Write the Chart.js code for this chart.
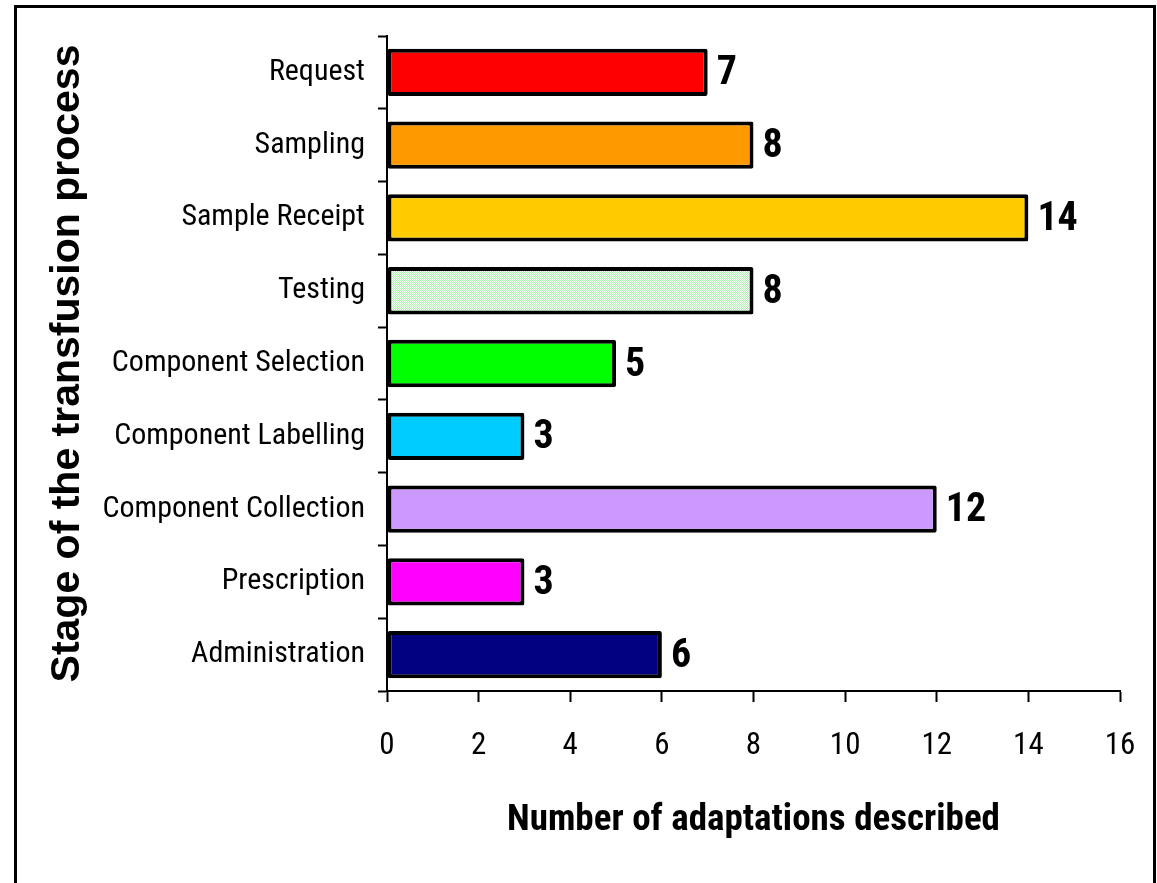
<!DOCTYPE html>
<html>
<head>
<meta charset="utf-8">
<script src="https://cdn.jsdelivr.net/npm/chart.js@4/dist/chart.umd.min.js"></script>
<style>
	html, body { margin: 0; padding: 0; background: #fff; }
	#wrap { position: relative; width: 1157px; height: 883px; }
</style>
</head>
<body>
<div id="wrap"><canvas id="stageChart"></canvas></div>
<script>
// stages of the transfusion process, top to bottom
var stages = ['Request', 'Sampling', 'Sample Receipt', 'Testing', 'Component Selection',
	'Component Labelling', 'Component Collection', 'Prescription', 'Administration'];
// number of adaptations described per stage
var adaptations = [7, 8, 14, 8, 5, 3, 12, 3, 6];
// x axis range
var xMin = 0, xMax = 16, xStep = 2;

// narrow sans: Roboto in its condensed width
var narrow = '"Roboto Condensed", Roboto, sans-serif';

// light green dotted fill for the Testing bar
function dotPattern() {
	var c = document.createElement('canvas');
	c.width = 2; c.height = 2;
	var g = c.getContext('2d');
	g.fillStyle = '#ffffff';
	g.fillRect(0, 0, 2, 2);
	g.fillStyle = '#b4f0b4';
	g.fillRect(0, 0, 1, 1);
	g.fillRect(1, 1, 1, 1);
	return g.createPattern(c, 'repeat');
}

var fills = ['#ff0000', '#ff9900', '#ffcc00', dotPattern(), '#00ff00',
	'#00ccff', '#cc99ff', '#ff00ff', '#000080'];

// outer frame round the picture
var framePlugin = {
	id: 'frame',
	afterDraw: function (chart) {
		var c = chart.ctx;
		c.save();
		c.strokeStyle = '#000';
		c.lineWidth = 3;
		c.beginPath();
		c.moveTo(15.5, 900);
		c.lineTo(15.5, 6.5);
		c.lineTo(1154.5, 6.5);
		c.lineTo(1154.5, 900);
		c.stroke();
		c.restore();
	}
};

// value next to the end of each bar
var valuePlugin = {
	id: 'values',
	afterDatasetsDraw: function (chart) {
		var c = chart.ctx;
		var meta = chart.getDatasetMeta(0);
		c.save();
		c.fillStyle = '#000';
		c.font = 'bold condensed 40px ' + narrow;
		c.textAlign = 'left';
		c.textBaseline = 'middle';
		meta.data.forEach(function (bar, i) {
			c.fillText(adaptations[i], bar.x + 9, bar.y + 2);
		});
		c.restore();
	}
};

var ctx = document.getElementById('stageChart').getContext('2d');

var stageChart = new Chart(ctx, {
	type: 'bar',
	data: {
		labels: stages,
		datasets: [{
			data: adaptations,
			backgroundColor: fills,
			borderColor: '#000',
			borderWidth: 4,
			borderSkipped: false,
			borderRadius: 2,
			barPercentage: 0.65,
			categoryPercentage: 1
		}]
	},
	options: {
		indexAxis: 'y',
		responsive: true,
		maintainAspectRatio: false,
		animation: false,
		layout: { padding: { top: 36, right: 37, bottom: 40, left: 43 } },
		plugins: {
			legend: { display: false },
			tooltip: { enabled: false }
		},
		scales: {
			x: {
				min: xMin,
				max: xMax,
				ticks: {
					stepSize: xStep,
					color: '#000',
					padding: 20,
					font: { family: narrow, size: 31, weight: 'condensed', lineHeight: 1.55 }
				},
				grid: {
					drawOnChartArea: false,
					drawTicks: true,
					tickLength: 11,
					tickWidth: 2,
					tickColor: '#000'
				},
				border: { display: true, color: '#000', width: 2 },
				title: {
					display: true,
					text: 'Number of adaptations described',
					color: '#000',
					padding: 0,
					font: { family: narrow, size: 37, weight: 'bold condensed' }
				},
				afterFit: function (scale) { scale.height = 152; }
			},
			y: {
				ticks: {
					color: '#000',
					padding: 13,
					font: { family: narrow, size: 30, weight: 'condensed' }
				},
				grid: {
					offset: true,
					drawOnChartArea: false,
					drawTicks: true,
					tickLength: 9,
					tickWidth: 2,
					tickColor: '#000'
				},
				border: { display: true, color: '#000', width: 2 },
				title: {
					display: true,
					text: 'Stage of the transfusion process',
					color: '#000',
					padding: 0,
					font: { family: '"Liberation Sans", Arial, sans-serif', size: 41, weight: 'bold' }
				},
				afterFit: function (scale) { scale.width = 344; }
			}
		}
	},
	plugins: [valuePlugin, framePlugin]
});
</script>
</body>
</html>
